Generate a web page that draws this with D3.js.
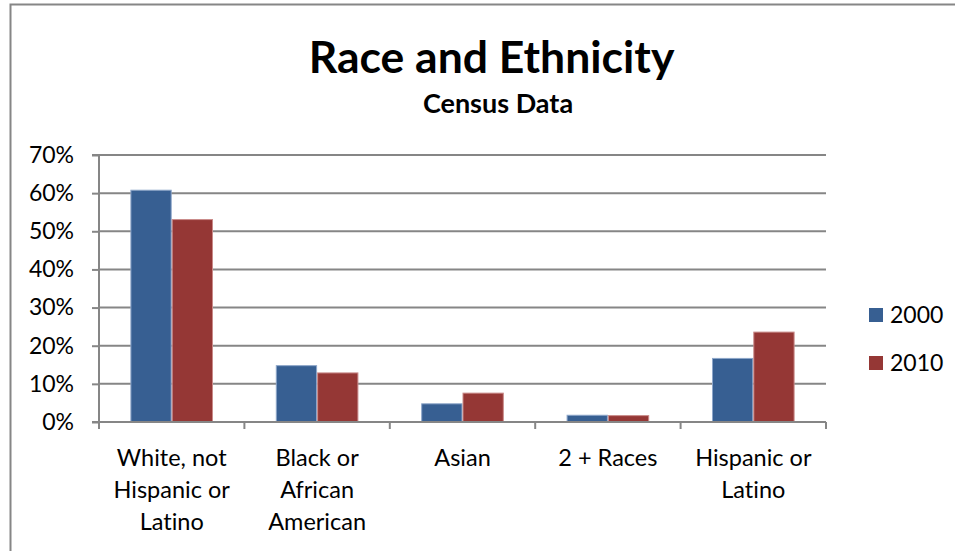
<!DOCTYPE html>
<html>
<head>
<meta charset="utf-8">
<script src="https://cdn.jsdelivr.net/npm/d3@7"></script>
<style>
  html, body { margin: 0; padding: 0; background: #fff; }
  svg { display: block; }
  text { font-family: Lato, "Noto Sans", sans-serif; fill: #000; font-variant-ligatures: none; font-feature-settings: "liga" 0, "clig" 0; }
</style>
</head>
<body>
<svg id="chart" width="955" height="551"></svg>
<script>
// Census shares by race and ethnicity, percent of population
const categories = ["White, not Hispanic or Latino", "Black or African American", "Asian", "2 + Races", "Hispanic or Latino"];
const categoryLines = [["White, not", "Hispanic or", "Latino"], ["Black or", "African", "American"], ["Asian"], ["2 + Races"], ["Hispanic or", "Latino"]];
const seriesNames = ["2000", "2010"];
const values2000 = [60.9, 14.9, 4.9, 1.9, 16.8];
const values2010 = [53.2, 13.0, 7.7, 1.8, 23.7];
const yTicks = [0, 10, 20, 30, 40, 50, 60, 70];
const titleText = "Race and Ethnicity";
const subtitleText = "Census Data";

const colors = { "2000": "#375F92", "2010": "#953735" };
const edges = { "2000": "#8DA6C9", "2010": "#C98A89" };
const gridColor = "#868686";

const svg = d3.select("#chart");

// chart frame (left and top edges fall inside the canvas)
svg.append("rect")
  .attr("x", 10.5).attr("y", 4.5)
  .attr("width", 1000).attr("height", 600)
  .attr("fill", "#fff")
  .attr("stroke", gridColor).attr("stroke-width", 2);

const plot = { left: 99, right: 826, top: 155, bottom: 422 };

const x = d3.scaleBand().domain(categories).range([plot.left, plot.right]).padding(0);
const xs = d3.scaleBand().domain(seriesNames).range([0, x.bandwidth()]).paddingInner(0).paddingOuter(0.76);
const y = d3.scaleLinear().domain([0, 70]).range([plot.bottom, plot.top]);

// horizontal gridlines
svg.append("g")
  .selectAll("line").data(yTicks.filter(d => d > 0)).join("line")
  .attr("x1", plot.left).attr("x2", plot.right)
  .attr("y1", d => y(d)).attr("y2", d => y(d))
  .attr("stroke", gridColor).attr("stroke-width", 2);

// y axis
const yAxis = d3.axisLeft(y).tickValues(yTicks).tickSize(7).tickPadding(18)
  .tickFormat(d => d + "%");
const gy = svg.append("g").attr("transform", `translate(${plot.left},0)`).call(yAxis);
gy.select(".domain").attr("stroke", gridColor).attr("stroke-width", 2)
  .attr("d", `M-7,${y(70)}H0V${y(0)}H-7`);
gy.selectAll(".tick line").attr("stroke", gridColor).attr("stroke-width", 2);
gy.selectAll(".tick text").attr("font-size", 23).attr("font-family", "Lato").attr("fill", "#000");

// bars
const rows = categories.map((c, i) => ({ cat: c, vals: [values2000[i], values2010[i]] }));
const groups = svg.append("g").selectAll("g").data(rows).join("g")
  .attr("transform", d => `translate(${x(d.cat)},0)`);
groups.selectAll("rect")
  .data(d => d.vals.map((v, j) => ({ key: seriesNames[j], v })))
  .join("rect")
  .attr("x", d => xs(d.key) + 0.5)
  .attr("width", xs.bandwidth() - 1)
  .attr("y", d => y(d.v) + 0.5)
  .attr("height", d => y(0) - y(d.v) - 0.5)
  .attr("fill", d => colors[d.key])
  .attr("stroke", d => edges[d.key]).attr("stroke-width", 1);

// x axis with category separators
const xAxis = d3.axisBottom(x).tickSize(0).tickFormat("");
const gx = svg.append("g").attr("transform", `translate(0,${plot.bottom})`).call(xAxis);
gx.select(".domain").attr("stroke", gridColor).attr("stroke-width", 2)
  .attr("d", `M${plot.left},0H${plot.right}`);
const bounds = categories.map(c => x(c)).concat([x(categories[categories.length - 1]) + x.bandwidth()]);
gx.selectAll(".sep").data(bounds).join("line")
  .attr("class", "sep")
  .attr("x1", d => d).attr("x2", d => d).attr("y1", 0).attr("y2", 7)
  .attr("stroke", gridColor).attr("stroke-width", 2);

// category labels
const lab = svg.append("g").selectAll("text").data(categories).join("text")
  .attr("text-anchor", "middle")
  .attr("font-size", 23.5)
  .attr("x", d => x(d) + x.bandwidth() / 2)
  .attr("y", 466);
lab.each(function (d, i) {
  d3.select(this).selectAll("tspan").data(categoryLines[i]).join("tspan")
    .attr("x", x(d) + x.bandwidth() / 2)
    .attr("dy", (t, k) => k === 0 ? 0 : 32)
    .text(t => t);
});

// title
svg.append("text").attr("x", 491.5).attr("y", 73).attr("text-anchor", "middle")
  .attr("font-size", 44.5).attr("font-weight", "bold").text(titleText);
svg.append("text").attr("x", 498).attr("y", 113).attr("text-anchor", "middle")
  .attr("font-size", 27).attr("font-weight", "bold").text(subtitleText);

// legend
const legend = svg.append("g").selectAll("g").data(seriesNames).join("g")
  .attr("transform", (d, i) => `translate(869,${308 + i * 48})`);
legend.append("rect").attr("width", 14).attr("height", 14)
  .attr("fill", d => colors[d]);
legend.append("text").attr("x", 21).attr("y", 15).attr("font-size", 23).text(d => d);
</script>
</body>
</html>
